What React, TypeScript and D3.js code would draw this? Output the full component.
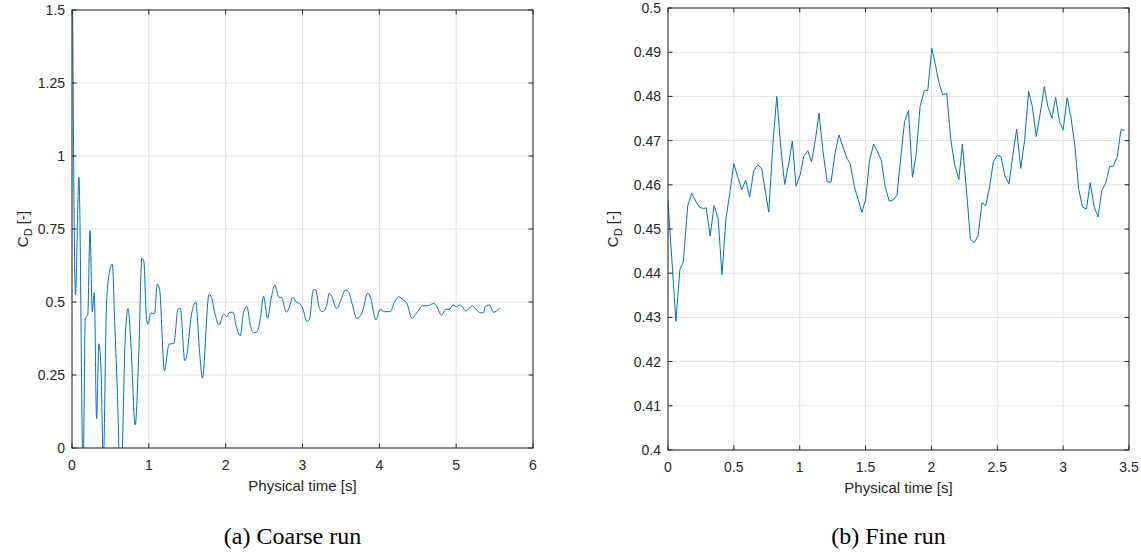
import React, { useEffect, useRef } from "react";
import * as d3 from "d3";

// (a) coarse run
const coarseTime = [
  0.0, 0.045, 0.09, 0.145, 0.173, 0.205, 0.234, 0.264, 0.29, 0.32, 0.35, 0.378, 0.407, 0.45, 0.494,
  0.524, 0.56, 0.59, 0.632, 0.697, 0.73, 0.77, 0.822, 0.87, 0.909, 0.935, 0.97, 0.99, 1.026, 1.074,
  1.11, 1.14, 1.203, 1.264, 1.325, 1.381, 1.411, 1.468, 1.489, 1.554, 1.61, 1.662, 1.697, 1.784,
  1.814, 1.87, 1.913, 1.974, 2.017, 2.052, 2.095, 2.139, 2.19, 2.234, 2.277, 2.32, 2.364, 2.407,
  2.45, 2.494, 2.545, 2.593, 2.64, 2.693, 2.727, 2.788, 2.822, 2.874, 2.918, 2.96, 3.004, 3.056,
  3.09, 3.14, 3.17, 3.22, 3.255, 3.31, 3.35, 3.37, 3.446, 3.5, 3.558, 3.6, 3.645, 3.706, 3.775,
  3.848, 3.879, 3.957, 4.009, 4.065, 4.139, 4.195, 4.251, 4.312, 4.355, 4.424, 4.498, 4.563, 4.628,
  4.71, 4.745, 4.81, 4.866, 4.91, 4.96, 5.004, 5.048, 5.08, 5.126, 5.169, 5.212, 5.264, 5.32,
  5.355, 5.377, 5.43, 5.489, 5.524, 5.567,
];
const coarseCd = [
  1.9, 0.524, 0.927, -0.08, 0.444, 0.455, 0.745, 0.467, 0.533, 0.1, 0.357, 0.27, -0.05, 0.5, 0.61,
  0.63, 0.4, 0.2, -0.15, 0.4, 0.478, 0.34, 0.079, 0.33, 0.65, 0.64, 0.44, 0.424, 0.463, 0.459,
  0.562, 0.543, 0.265, 0.356, 0.358, 0.476, 0.478, 0.299, 0.311, 0.455, 0.5, 0.324, 0.239, 0.527,
  0.516, 0.45, 0.421, 0.458, 0.45, 0.465, 0.465, 0.416, 0.384, 0.467, 0.484, 0.421, 0.395, 0.398,
  0.44, 0.52, 0.444, 0.513, 0.558, 0.516, 0.516, 0.465, 0.478, 0.516, 0.5, 0.495, 0.478, 0.433,
  0.44, 0.541, 0.543, 0.478, 0.467, 0.484, 0.53, 0.524, 0.478, 0.507, 0.541, 0.535, 0.495, 0.444,
  0.463, 0.53, 0.52, 0.438, 0.475, 0.467, 0.467, 0.498, 0.518, 0.507, 0.498, 0.444, 0.467, 0.487,
  0.487, 0.495, 0.486, 0.455, 0.475, 0.475, 0.49, 0.484, 0.49, 0.484, 0.469, 0.478, 0.487, 0.473,
  0.463, 0.463, 0.484, 0.49, 0.465, 0.469, 0.48,
];

// (b) fine run
const fineTime = [
  0.0, 0.06, 0.09, 0.116, 0.15, 0.18, 0.21, 0.24, 0.27, 0.29, 0.32, 0.35, 0.38, 0.41, 0.44, 0.47,
  0.5, 0.53, 0.56, 0.59, 0.62, 0.65, 0.68, 0.71, 0.765, 0.8, 0.826, 0.856, 0.886, 0.917, 0.944,
  0.972, 1.005, 1.03, 1.061, 1.09, 1.119, 1.147, 1.177, 1.208, 1.238, 1.268, 1.298, 1.329, 1.359,
  1.384, 1.414, 1.444, 1.472, 1.5, 1.53, 1.561, 1.591, 1.619, 1.649, 1.68, 1.71, 1.738, 1.768,
  1.796, 1.826, 1.856, 1.884, 1.914, 1.945, 1.972, 2.003, 2.028, 2.058, 2.086, 2.116, 2.147, 2.177,
  2.208, 2.235, 2.266, 2.296, 2.324, 2.354, 2.384, 2.412, 2.442, 2.47, 2.5, 2.528, 2.558, 2.589,
  2.617, 2.647, 2.678, 2.708, 2.738, 2.766, 2.796, 2.826, 2.857, 2.884, 2.915, 2.943, 2.972, 3.0,
  3.03, 3.058, 3.088, 3.119, 3.147, 3.177, 3.205, 3.235, 3.265, 3.293, 3.323, 3.353, 3.381, 3.411,
  3.439, 3.467,
];
const fineCd = [
  0.4563, 0.4291, 0.4408, 0.4425, 0.4553, 0.4581, 0.4563, 0.4549, 0.4546, 0.4548, 0.4484, 0.4553,
  0.4525, 0.4397, 0.4523, 0.4583, 0.4648, 0.4617, 0.4589, 0.4611, 0.4572, 0.4631, 0.4645, 0.4638,
  0.4538, 0.4708, 0.48, 0.4685, 0.4601, 0.4649, 0.4699, 0.4597, 0.4624, 0.4664, 0.4677, 0.4652,
  0.4702, 0.4762, 0.4675, 0.4607, 0.4606, 0.4671, 0.4713, 0.4685, 0.466, 0.4647, 0.4597, 0.4566,
  0.4538, 0.4566, 0.4655, 0.4692, 0.4675, 0.4656, 0.4596, 0.4563, 0.4566, 0.4576, 0.4664, 0.4743,
  0.4768, 0.4617, 0.4668, 0.4777, 0.4813, 0.4813, 0.4909, 0.4875, 0.483, 0.4803, 0.4807, 0.4702,
  0.4645, 0.4612, 0.4692, 0.4588, 0.4477, 0.4469, 0.4484, 0.456, 0.4552, 0.4596, 0.4652, 0.4667,
  0.4664, 0.462, 0.4602, 0.4664, 0.4726, 0.4637, 0.4702, 0.4811, 0.4777, 0.4709, 0.4762, 0.4822,
  0.4777, 0.4751, 0.4798, 0.4743, 0.4724, 0.4797, 0.4755, 0.4691, 0.4589, 0.455, 0.4545, 0.4605,
  0.4551, 0.4527, 0.4587, 0.4604, 0.4642, 0.4642, 0.4664, 0.4725, 0.4723,
];

const coarseXTicks = [0, 1, 2, 3, 4, 5, 6];
const coarseYTicks = [0, 0.25, 0.5, 0.75, 1, 1.25, 1.5];
const fineXTicks = [0, 0.5, 1, 1.5, 2, 2.5, 3, 3.5];
const fineYTicks = [0.4, 0.41, 0.42, 0.43, 0.44, 0.45, 0.46, 0.47, 0.48, 0.49, 0.5];

const axisColor = "#262626";
const gridColor = "#dfdfdf";
const lineColor = "#0072bd";
const sansFont = "'Liberation Sans', Arial, sans-serif";

function drawPanel(root, opts) {
  const { id, left, top, width, height, xTicks, yTicks, time, cd, curve, caption, labelGap } = opts;
  const x = d3.scaleLinear().domain(d3.extent(xTicks)).range([left, left + width]);
  const y = d3.scaleLinear().domain(d3.extent(yTicks)).range([top + height, top]);
  const g = root.append("g");

  g.append("clipPath")
    .attr("id", id)
    .append("rect")
    .attr("x", left)
    .attr("y", top)
    .attr("width", width)
    .attr("height", height);

  // grid
  g.selectAll(".gx")
    .data(xTicks)
    .join("line")
    .attr("x1", (d) => x(d))
    .attr("x2", (d) => x(d))
    .attr("y1", top)
    .attr("y2", top + height)
    .attr("stroke", gridColor);
  g.selectAll(".gy")
    .data(yTicks)
    .join("line")
    .attr("x1", left)
    .attr("x2", left + width)
    .attr("y1", (d) => y(d))
    .attr("y2", (d) => y(d))
    .attr("stroke", gridColor);

  // series
  const line = d3
    .line()
    .x((d, i) => x(time[i]))
    .y((d) => y(d))
    .curve(curve);
  g.append("path")
    .attr("d", line(cd))
    .attr("fill", "none")
    .attr("stroke", lineColor)
    .attr("stroke-width", 1)
    .attr("clip-path", `url(#${id})`);

  // box + inward ticks on all sides
  g.append("rect")
    .attr("x", left)
    .attr("y", top)
    .attr("width", width)
    .attr("height", height)
    .attr("fill", "none")
    .attr("stroke", axisColor)
    .attr("stroke-width", 1);
  const tl = 4.5;
  xTicks.forEach((d) => {
    g.append("line").attr("x1", x(d)).attr("x2", x(d)).attr("y1", top + height).attr("y2", top + height - tl).attr("stroke", axisColor);
    g.append("line").attr("x1", x(d)).attr("x2", x(d)).attr("y1", top).attr("y2", top + tl).attr("stroke", axisColor);
  });
  yTicks.forEach((d) => {
    g.append("line").attr("x1", left).attr("x2", left + tl).attr("y1", y(d)).attr("y2", y(d)).attr("stroke", axisColor);
    g.append("line").attr("x1", left + width).attr("x2", left + width - tl).attr("y1", y(d)).attr("y2", y(d)).attr("stroke", axisColor);
  });

  // tick labels
  g.selectAll(".xl")
    .data(xTicks)
    .join("text")
    .attr("x", (d) => x(d))
    .attr("y", top + height + 22)
    .attr("text-anchor", "middle")
    .attr("font-family", sansFont)
    .attr("font-size", 14)
    .attr("fill", axisColor)
    .text((d) => String(d));
  g.selectAll(".yl")
    .data(yTicks)
    .join("text")
    .attr("x", left - 7)
    .attr("y", (d) => y(d) + 5)
    .attr("text-anchor", "end")
    .attr("font-family", sansFont)
    .attr("font-size", 14)
    .attr("fill", axisColor)
    .text((d) => String(d));

  // axis labels
  g.append("text")
    .attr("x", left + width / 2)
    .attr("y", top + height + 43)
    .attr("text-anchor", "middle")
    .attr("font-family", sansFont)
    .attr("font-size", 15)
    .attr("fill", axisColor)
    .text("Physical time [s]");
  const yl = g
    .append("text")
    .attr("transform", `translate(${left - labelGap},${top + height / 2}) rotate(-90)`)
    .attr("text-anchor", "middle")
    .attr("font-family", sansFont)
    .attr("font-size", 15)
    .attr("fill", axisColor);
  yl.append("tspan").text("C");
  yl.append("tspan").attr("dy", 4).attr("font-size", 11).text("D");
  yl.append("tspan").attr("dy", -4).text(" [-]");

  // caption
  g.append("text")
    .attr("x", left + width / 2 - 10)
    .attr("y", 544)
    .attr("text-anchor", "middle")
    .attr("font-family", "'Liberation Serif', 'Times New Roman', serif")
    .attr("font-size", 24)
    .attr("fill", "#000")
    .text(caption);
}

export default function App() {
  const ref = useRef(null);

  useEffect(() => {
    const svg = d3.select(ref.current);
    svg.selectAll("*").remove();
    drawPanel(svg, {
      id: "clipA",
      left: 72,
      top: 10,
      width: 461,
      height: 438,
      xTicks: coarseXTicks,
      yTicks: coarseYTicks,
      time: coarseTime,
      cd: coarseCd,
      curve: d3.curveMonotoneX,
      caption: "(a) Coarse run",
      labelGap: 44,
    });
    drawPanel(svg, {
      id: "clipB",
      left: 668,
      top: 8,
      width: 461,
      height: 442,
      xTicks: fineXTicks,
      yTicks: fineYTicks,
      time: fineTime,
      cd: fineCd,
      curve: d3.curveLinear,
      caption: "(b) Fine run",
      labelGap: 50,
    });
  }, []);

  return (
    <svg
      ref={ref}
      width={1141}
      height={557}
      style={{ position: "absolute", left: 0, top: 0, background: "#fff" }}
    />
  );
}
